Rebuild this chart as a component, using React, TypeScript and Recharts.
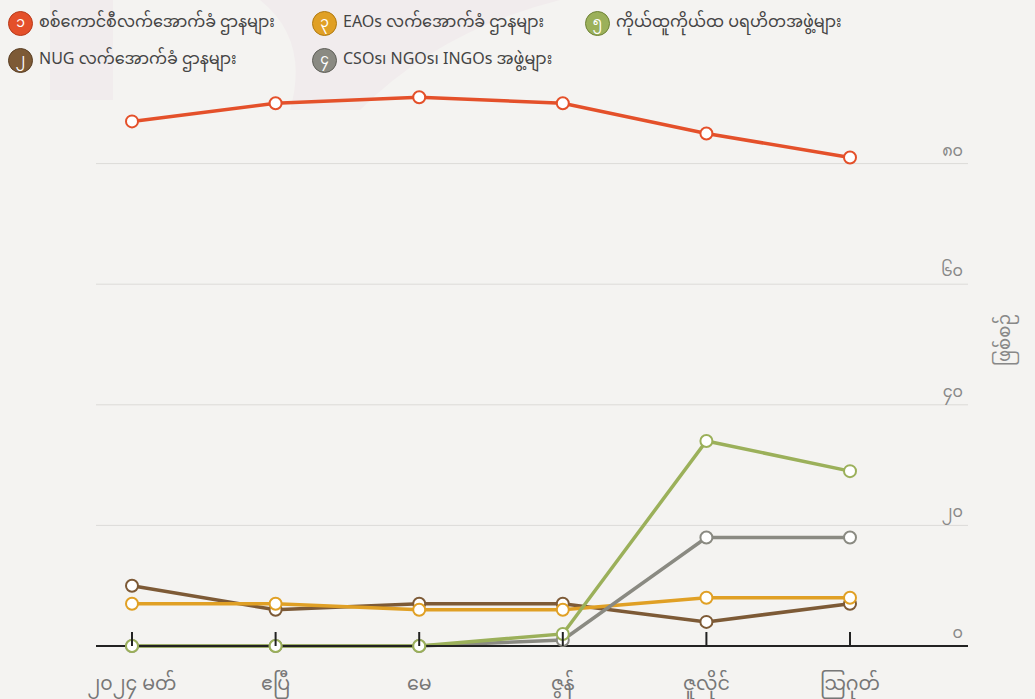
import { LineChart, Line, XAxis, YAxis, CartesianGrid } from "recharts";

const months = ["၂၀၂၄ မတ်", "ဧပြီ", "မေ", "ဇွန်", "ဇူလိုင်", "သြဂုတ်"];
const military = [87, 90, 91, 90, 85, 81];
const nug = [10, 6, 7, 7, 4, 7];
const eaos = [7, 7, 6, 6, 8, 8];
const csos = [0, 0, 0, 1, 18, 18];
const localGroups = [0, 0, 0, 2, 34, 29];
const yTicks = [0, 20, 40, 60, 80];
const yTickLabels = ["၀", "၂၀", "၄၀", "၆၀", "၈၀"];
const yTitle = "ဖြစ်စဉ်";

const series = [
  { key: "military", num: "၁", name: "စစ်ကောင်စီလက်အောက်ခံ ဌာနများ", color: "#e4502a", ring: "#b83a1a" },
  { key: "nug", num: "၂", name: "NUG လက်အောက်ခံ ဌာနများ", color: "#7d5a36", ring: "#5a3f24" },
  { key: "eaos", num: "၃", name: "EAOs လက်အောက်ခံ ဌာနများ", color: "#e0a025", ring: "#b07a12" },
  { key: "csos", num: "၄", name: "CSOs၊ NGOs၊ INGOs အဖွဲ့များ", color: "#8a8a82", ring: "#5f5f58" },
  { key: "local", num: "၅", name: "ကိုယ်ထူကိုယ်ထ ပရဟိတအဖွဲ့များ", color: "#9bb05a", ring: "#6e8236" },
];

const data = months.map((m, i) => ({
  month: m,
  military: military[i],
  nug: nug[i],
  eaos: eaos[i],
  csos: csos[i],
  local: localGroups[i],
}));

const font = "'Noto Sans', 'Noto Sans Myanmar', sans-serif";

const legendPos: Record<string, { left: number; top: number }> = {
  military: { left: 8, top: 6 },
  eaos: { left: 312, top: 6 },
  local: { left: 585, top: 6 },
  nug: { left: 8, top: 43 },
  csos: { left: 312, top: 43 },
};

function XTick(props: any) {
  const { x, y, payload } = props;
  return (
    <g>
      <line x1={x} x2={x} y1={y - 14} y2={y} stroke="#222" strokeWidth={2} />
      <text x={x} y={y + 44} textAnchor="middle" fill="#777" fontSize={19} fontFamily={font}>
        {payload.value}
      </text>
    </g>
  );
}

function YTick(props: any) {
  const { y, payload } = props;
  const idx = yTicks.indexOf(payload.value);
  return (
    <text x={963} y={y - 8} textAnchor="end" fill="#888" fontSize={16} fontFamily={font}>
      {yTickLabels[idx]}
    </text>
  );
}

export default function App() {
  return (
    <div
      style={{
        position: "absolute",
        left: 0,
        top: 0,
        width: 1035,
        height: 699,
        background: "#f4f3f1",
        fontFamily: font,
        overflow: "hidden",
      }}
    >
      {/* faint watermark behind the legend */}
      <svg width={1035} height={699} style={{ position: "absolute", left: 0, top: 0 }}>
        <path d="M50 0 L113 0 L113 100 L50 100 Z" fill="#f1eced" />
        <path d="M260 0 L560 0 Q440 30 360 110 L290 110 Q310 40 260 0 Z" fill="#f1eced" />
      </svg>
      {series.map((s) => (
        <div
          key={s.key}
          style={{
            position: "absolute",
            left: legendPos[s.key].left,
            top: legendPos[s.key].top,
            display: "flex",
            alignItems: "center",
            gap: 6,
            fontSize: 16,
            color: "#444",
            whiteSpace: "nowrap",
          }}
        >
          <span
            style={{
              width: 25,
              height: 25,
              borderRadius: 13,
              background: s.color,
              border: `1.5px solid ${s.ring}`,
              color: "#fff",
              display: "inline-flex",
              alignItems: "center",
              justifyContent: "center",
              fontSize: 14,
              boxSizing: "border-box",
            }}
          >
            {s.num}
          </span>
          {s.name}
        </div>
      ))}
      <LineChart
        width={1035}
        height={699}
        data={data}
        margin={{ top: 43, right: 66, bottom: 23, left: 96 }}
        style={{ position: "absolute", left: 0, top: 0 }}
      >
        <CartesianGrid vertical={false} stroke="#dcdbd8" horizontalValues={[20, 40, 60, 80]} />
        <XAxis
          dataKey="month"
          height={30}
          padding={{ left: 36, right: 118 }}
          axisLine={{ stroke: "#222", strokeWidth: 2 }}
          tickLine={false}
          tickSize={0}
          tickMargin={0}
          tick={<XTick />}
          interval={0}
        />
        <YAxis
          orientation="right"
          width={1}
          domain={[0, 100]}
          ticks={yTicks}
          axisLine={false}
          tickLine={false}
          tick={<YTick />}
          interval={0}
        />
        {["military", "nug", "eaos", "csos", "local"].map((k) => {
          const s = series.find((x) => x.key === k)!;
          return (
            <Line
              key={k}
              dataKey={k}
              stroke={s.color}
              strokeWidth={3.5}
              dot={{ r: 6, fill: "#fff", stroke: s.color, strokeWidth: 2 }}
              isAnimationActive={false}
            />
          );
        })}
      </LineChart>
      <div
        style={{
          position: "absolute",
          left: 1005,
          top: 340,
          transform: "translate(-50%, -50%) rotate(-90deg)",
          color: "#888",
          fontSize: 18,
          whiteSpace: "nowrap",
        }}
      >
        {yTitle}
      </div>
    </div>
  );
}
